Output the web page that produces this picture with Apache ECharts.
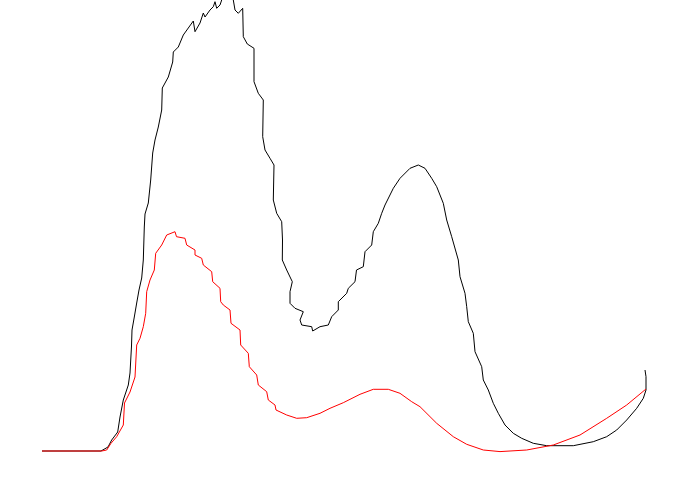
<!DOCTYPE html>
<html>
<head>
<meta charset="utf-8">
<script src="https://cdn.jsdelivr.net/npm/echarts@6/dist/echarts.min.js"></script>
<style>
html,body{margin:0;padding:0;background:#fff;}
#chart{width:697px;height:484px;}
</style>
</head>
<body>
<div id="chart"></div>
<script>
// Black curve
var blackX = [0,59,66,69.7,75.7,78,81.3,86.3,88,89.5,90,92.3,94.7,97,99.7,101.3,102.3,103,106.3,108.7,110.7,113,116.3,119.7,120.3,126.3,130.7,131.3,136.3,141.3,151.3,153,158,161.3,163,168,171.3,173,174.7,178,179.7,183,188,191.3,193,196.3,200.7,201.3,205.3,212,212,216.3,221.3,220.7,223,228,232,231.3,234.7,239.7,240.5,240.3,244.7,250.3,248,248,253,261.3,258,259.7,269.7,270.7,278,286.3,289.7,296.3,296.3,304.7,306.3,313,314.5,321.3,323,329.7,331.3,336.3,339.7,343,351.3,358,368,376.3,383,389.7,394.7,401.3,404.7,409.7,416.3,418,423,424.7,426.3,431.3,433,439.7,441.3,446.3,451.3,456.3,463,471.3,479.7,491.3,504.7,531.3,551.3,564.7,574.7,584.7,594.7,601.3,604,604,603];
var blackY = [0,0,4,11,19,34,51,66,78,105,121,134,148,161,173,191,224,237,248,271,298,311,324,341,363,374,389,399,404,416,430,419.3,428,438,434,441,444.3,449.3,442.7,446,451,459,459,451,441,437.7,442.7,414.3,407,402.7,369.3,357.7,351,314.3,301,292.7,286,251,237.7,229.3,211,191,181,169.3,159.3,147.7,142.7,139.3,131,126,124.3,120,124.3,126,134.3,141,149.3,157.7,162.7,169.3,181,184.3,199.3,206,219.3,227.7,237.7,246,262.7,272.7,282.7,286,282.7,272.7,264.3,247.7,231,214.3,191,174.3,157.7,144.3,129.3,117.7,99.3,84.3,71,61,47.7,37.7,26,17.7,12.7,7.7,5.3,5.3,9.3,14.3,21,31,42.7,52.7,61,74.3,81];
// Red curve
var redX = [0,59.7,64.7,69,74.7,81.3,82.5,82.5,88,93,94.7,98,101.3,103.7,104.7,108,112.3,113.7,119.7,124.7,133,134.5,143,144.7,153,153,159.7,161.3,169.7,170.7,178,178.7,181.3,188,189,198,198.7,206.3,207.3,214.7,216.3,224.7,226.3,233,234,244.7,254.7,264.7,278,288,301.3,318,331.3,346.3,358,369.7,378,394.7,411.3,424.7,441.3,458,484.7,511.3,538,564.7,584.7,604];
var redY = [0,0,1,7.7,14.3,26,28,48,59,74,106,112.7,124.3,137.7,159.3,171,181,197.7,206,216,219.3,214.3,212.7,206,201,196,192.7,186,179.3,169.3,162.7,149.3,146,141,127.7,121,106,97.7,84.3,76,66,59.3,51,46,41,36,32.7,33.3,37.7,42.7,48.3,56.7,61.7,61.7,57.7,49.3,44.3,27.7,14.3,6.7,1,-0.6,1,6,16,32.7,46,62];

function pairs(xs, ys){ return xs.map(function(x,i){ return [x, ys[i]]; }); }

var chart = echarts.init(document.getElementById('chart'), null, {renderer:'canvas'});
chart.setOption({
  animation: false,
  backgroundColor: '#fff',
  grid: {left: 42, right: 51, top: 0, bottom: 33, containLabel: false},
  xAxis: {type: 'value', min: 0, max: 604, show: false},
  yAxis: {type: 'value', min: 0, max: 451, show: false},
  series: [
    {type: 'line', data: pairs(blackX, blackY), showSymbol: false, symbol: 'none', clip: false,
     lineStyle: {color: '#000', width: 1}, z: 2},
    {type: 'line', data: pairs(redX, redY), showSymbol: false, symbol: 'none', clip: false,
     lineStyle: {color: '#ff0000', width: 1}, z: 3}
  ]
});
</script>
</body>
</html>
